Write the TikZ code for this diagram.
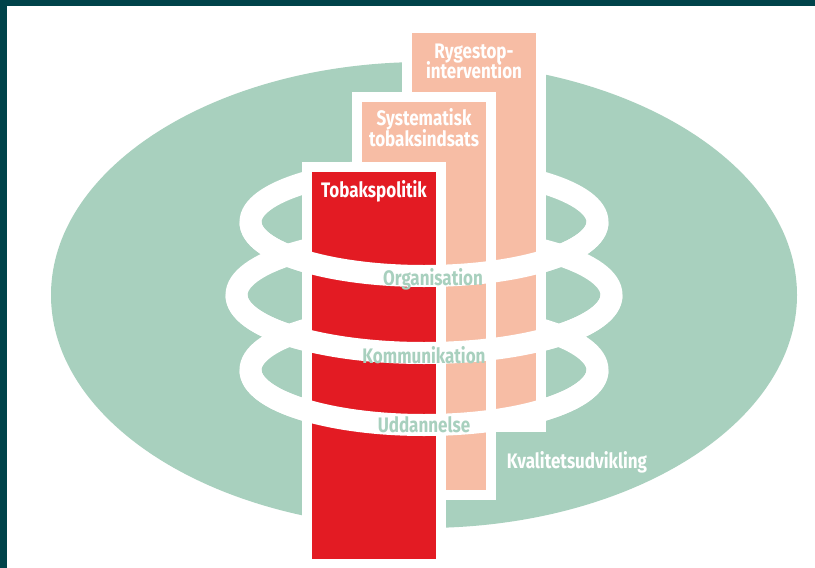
\documentclass[tikz,border=0pt]{standalone}
\usepackage{fontspec}
\newfontfamily\condsans{Fira Sans}[FakeStretch=0.81]

\definecolor{framedark}{RGB}{0,67,74}
\definecolor{ovalgreen}{RGB}{168,208,190}
\definecolor{barsalmon}{RGB}{247,189,165}
\definecolor{barred}{RGB}{227,27,35}

\tikzset{
  ring/.style={draw=white, line width=22pt},
  bar/.style={draw=white, line width=10pt},
  barlabel/.style={inner sep=0pt, anchor=base, text=white,
    font=\condsans\bfseries\fontsize{21}{21}\selectfont},
  ringlabel/.style={barlabel, text=ovalgreen}
}

\begin{document}
\begin{tikzpicture}[x=1pt,y=-1pt]
      \useasboundingbox (0,0) rectangle (815,568);
      \fill[white] (0,0) rectangle (815,568);
      \fill[framedark] (0,0) rectangle (815,6);
      \fill[framedark] (0,0) rectangle (7,568);
      \fill[ovalgreen] (424,295) ellipse [x radius=373, y radius=233];
      % back halves of the rings
      \foreach \cy/\rx/\ry in {222/173.5/54, 295/187.5/58, 370/173.5/55}
        \draw[ring] (424,\cy) ellipse [x radius=\rx, y radius=\ry];
      % bars
      \filldraw[bar, fill=barsalmon] (407,28) rectangle (541,427);
      \filldraw[bar, fill=barsalmon] (357,97) rectangle (491,495);
      \filldraw[bar, fill=barred] (307,167) rectangle (441,564);
      % front halves of the rings
      \foreach \cy/\rx/\ry in {222/173.5/54, 295/187.5/58, 370/173.5/55}
        \draw[ring] (424+\rx,\cy) arc [start angle=0, end angle=180, x radius=\rx, y radius=\ry];
      \node[barlabel] (ryge1) at (474,58) {Rygestop-};
      \node[barlabel] (ryge2) at (474,78) {intervention};
      \node[barlabel] (sys1) at (424,125) {Systematisk};
      \node[barlabel] (sys2) at (424,146) {tobaksindsats};
      \node[barlabel] (tobak) at (374,197) {Tobakspolitik};
      \node[ringlabel] (org) at (433,285) {Organisation};
      \node[ringlabel] (komm) at (424,363) {Kommunikation};
      \node[ringlabel] (udd) at (424,432) {Uddannelse};
      \node[barlabel] (kval) at (577,468) {Kvalitetsudvikling};
\end{tikzpicture}
\end{document}
